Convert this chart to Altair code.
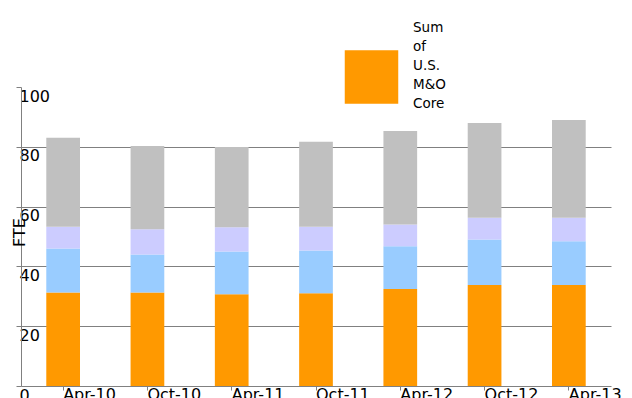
import altair as alt
import pandas as pd

dates = ["Apr-10", "Oct-10", "Apr-11", "Oct-11", "Apr-12", "Oct-12", "Apr-13"]
series_names = ["Sum of U.S. M&O Core", "Sum of U.S. M&O Non-Core",
                "Sum of Non-U.S. M&O", "Sum of Other"]
core = [31.3, 31.3, 30.7, 31.0, 32.4, 33.8, 33.8]
noncore = [14.7, 12.7, 14.3, 14.3, 14.3, 15.2, 14.6]
nonus = [7.3, 8.4, 8.1, 8.0, 7.3, 7.3, 7.9]
other = [29.7, 27.9, 26.8, 28.4, 31.3, 31.7, 32.7]
colors = ["#FF9900", "#99CCFF", "#CCCCFF", "#C0C0C0"]
y_ticks = [0, 20, 40, 60, 80, 100]

rows = []
for i, name in enumerate(series_names):
    vals = [core, noncore, nonus, other][i]
    for d, v in zip(dates, vals):
        rows.append({"date": d, "series": name, "order": i, "fte": v})
df = pd.DataFrame(rows)
legend_df = pd.DataFrame({"series": [series_names[0]]})

FONT = "DejaVu Sans"

bars = alt.Chart(df).mark_bar().encode(
    x=alt.X("date:N", sort=dates,
            scale=alt.Scale(paddingInner=0.6, paddingOuter=0.3),
            axis=alt.Axis(title=None, labelAngle=0, labelAlign="left",
                          labelBaseline="top", labelPadding=-4, tickSize=4,
                          labelFontSize=16, labelFont=FONT, labelColor="black",
                          domainColor="#808080", tickColor="#808080",
                          grid=False)),
    y=alt.Y("fte:Q", stack="zero",
            scale=alt.Scale(domain=[0, 100], nice=False),
            axis=alt.Axis(title="FTE", values=y_ticks, labelAlign="left",
                          labelBaseline="top", labelPadding=-3, labelOffset=1,
                          tickSize=5, labelFontSize=16, labelFont=FONT,
                          labelColor="black", domainColor="#808080",
                          tickColor="#808080",
                          gridColor={"condition": {"test": "datum.value >= 100 || datum.value <= 0",
                                                   "value": "transparent"},
                                     "value": "#808080"},
                          titleFont=FONT, titleFontSize=16,
                          titleFontWeight="normal", titleColor="black",
                          titleAngle=270, titleX=-2, titleY=145,
                          titleAlign="center", titleBaseline="middle")),
    color=alt.Color("series:N", sort=series_names,
                    scale=alt.Scale(domain=series_names, range=colors),
                    legend=None),
    order=alt.Order("order:Q", sort="ascending"),
)

legend_symbol = alt.Chart(legend_df).mark_square(
    size=2862, opacity=1, color=colors[0]
).encode(x=alt.value(350.5), y=alt.value(-10))

legend_text = alt.Chart(legend_df).mark_text(
    align="left", baseline="top", lineBreak=" ", lineHeight=19,
    font=FONT, fontSize=13.5, color="black"
).encode(text="series:N", x=alt.value(392), y=alt.value(-66))

chart = alt.layer(bars, legend_symbol, legend_text).properties(
    width=590, height=299,
    autosize=alt.AutoSizeParams(type="none"),
    padding={"left": 13, "top": 79, "right": 10, "bottom": 20},
    background="white",
).configure_view(stroke=None)

chart.save("out.html", embed_options={"renderer": "svg", "actions": False})
